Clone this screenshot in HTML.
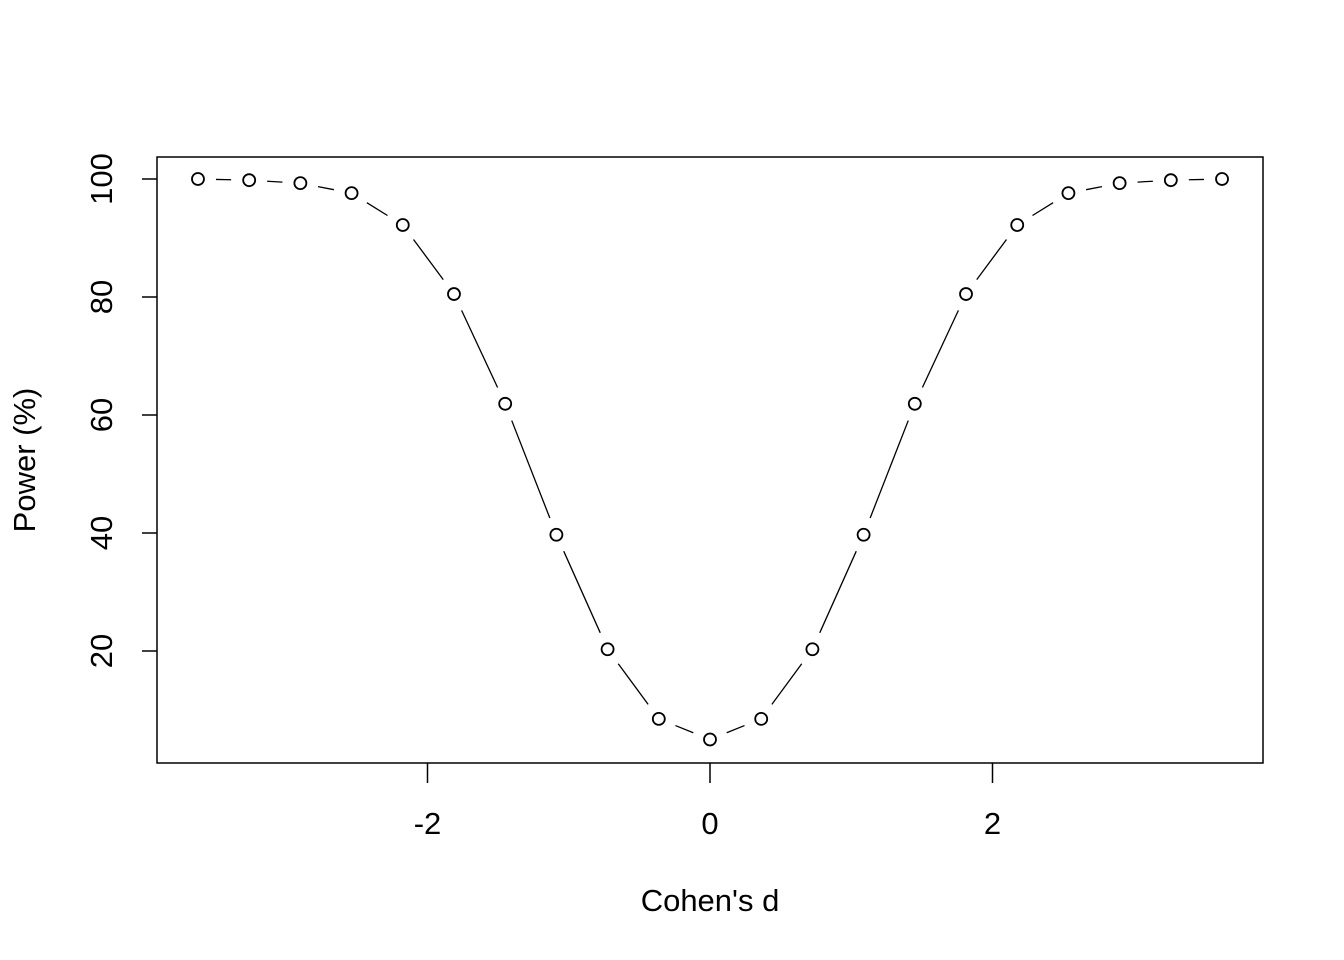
<!DOCTYPE html>
<html><head><meta charset="utf-8"><style>
html,body{margin:0;padding:0;background:#fff;}
svg{display:block;font-family:"Liberation Sans",Arial,sans-serif;}
</style></head><body>
<svg id="chart" width="1344" height="960" viewBox="0 0 1344 960">
<rect x="157" y="157" width="1106" height="606" fill="none" stroke="#000" stroke-width="1.5"/>
<g id="xaxis"></g>
<g id="yaxis"></g>
<g id="series"></g>
<text x="710" y="911" font-size="31" text-anchor="middle">Cohen's d</text>
<text transform="translate(35,460) rotate(-90)" font-size="31" text-anchor="middle">Power (%)</text>
</svg>
<script>
const dValues=[-3.625,-3.2625,-2.9,-2.5375,-2.175,-1.8125,-1.45,-1.0875,-0.725,-0.3625,0,0.3625,0.725,1.0875,1.45,1.8125,2.175,2.5375,2.9,3.2625,3.625];
const powerValues=[100,99.8,99.3,97.6,92.2,80.5,61.9,39.7,20.3,8.5,5,8.5,20.3,39.7,61.9,80.5,92.2,97.6,99.3,99.8,100];
const xTicks=[-2,0,2];
const yTicks=[20,40,60,80,100];
const NS="http://www.w3.org/2000/svg";
const sx=v=>710+v*141.25;
const sy=v=>769-v*5.9;
function mk(tag,attrs,parent){const e=document.createElementNS(NS,tag);for(const k in attrs)e.setAttribute(k,attrs[k]);parent.appendChild(e);return e;}
const xa=document.getElementById('xaxis'),ya=document.getElementById('yaxis'),sg=document.getElementById('series');
xTicks.forEach(t=>{
 const l=mk('line',{x1:sx(t),x2:sx(t),y1:763,y2:783,stroke:'#000','stroke-width':1.5},xa);
 
 
 const tx=mk('text',{x:sx(t),y:834,'font-size':31,'text-anchor':'middle'},xa);
 tx.textContent=t<0?'-'+Math.abs(t):String(t);
 
 
});
yTicks.forEach(t=>{
 const l=mk('line',{x1:142,x2:157,y1:sy(t),y2:sy(t),stroke:'#000','stroke-width':1.5},ya);
 
 
 const tx=mk('text',{transform:`translate(112,${sy(t)}) rotate(-90)`,'font-size':31,'text-anchor':'middle'},ya);
 tx.textContent=String(t);
 
 
});
const gap=18;
for(let i=0;i<dValues.length-1;i++){
 const x1=sx(dValues[i]),y1=sy(powerValues[i]),x2=sx(dValues[i+1]),y2=sy(powerValues[i+1]);
 const len=Math.hypot(x2-x1,y2-y1);if(len<=2*gap)continue;
 const ux=(x2-x1)/len,uy=(y2-y1)/len;
 const l=mk('line',{x1:x1+ux*gap,y1:y1+uy*gap,x2:x2-ux*gap,y2:y2-uy*gap,stroke:'#000','stroke-width':1.3},sg);
 
 
}
dValues.forEach((d,i)=>{
 const c=mk('circle',{cx:sx(d),cy:sy(powerValues[i]),r:6,fill:'none',stroke:'#000','stroke-width':1.8},sg);
 
 
});
</script>
</body></html>
